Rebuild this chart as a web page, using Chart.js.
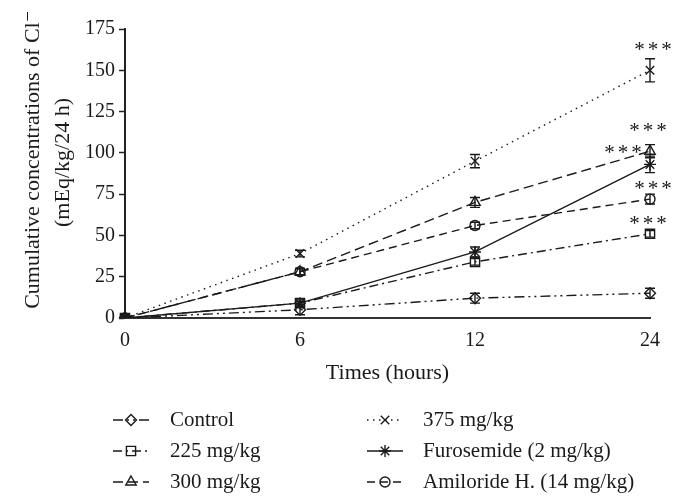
<!DOCTYPE html>
<html>
<head>
<meta charset="utf-8">
<script src="https://cdn.jsdelivr.net/npm/chart.js@4/dist/chart.umd.min.js"></script>
<style>
  html, body { margin: 0; padding: 0; background: #fff; }
</style>
</head>
<body>
<canvas id="chart" width="684" height="498"></canvas>
<script>
// hours
const times = ['0', '6', '12', '24'];

// cumulative Cl- (mEq/kg/24 h)
const control    = [0, 5, 12, 15];
const dose225    = [0, 9, 34, 51];
const dose300    = [0, 28, 70, 101];
const dose375    = [0, 39, 95, 150];
const furosemide = [0, 9, 40, 93];
const amiloride  = [0, 28, 56, 72];

// SEM
const errControl    = [0, 3, 3, 3];
const errDose225    = [0, 1, 2, 2];
const errDose300    = [0, 2, 3, 4];
const errDose375    = [0, 2, 4, 7];
const errFurosemide = [0, 2, 3, 5];
const errAmiloride  = [0, 2, 2, 3];

const yTicks = [0, 25, 50, 75, 100, 125, 150, 175];

const serif = "'Liberation Serif', 'DejaVu Serif', serif";
const ink = '#1a1a1a';
const NB = '\u00A0';

function series(label, data, errors, dash, pointStyle, radius, stars, starOffset) {
    return {
        label: label,
        data: data,
        errors: errors,
        stars: stars,
        starOffset: starOffset,
        borderColor: ink,
        backgroundColor: 'rgba(0,0,0,0)',
        borderWidth: 1.4,
        borderDash: dash,
        tension: 0,
        pointStyle: pointStyle,
        pointRadius: radius,
        pointBorderWidth: 1.4,
        pointBorderColor: ink,
        pointBackgroundColor: 'rgba(0,0,0,0)'
    };
}

const datasets = [
    series('Control', control, errControl, [10, 4, 2, 4, 2, 4], 'rectRot', 5.5, '', null),
    series('225 mg/kg', dose225, errDose225, [9, 4, 2, 4], 'rect', 6.5, '***', [-2, -14]),
    series('300 mg/kg', dose300, errDose300, [10, 5], 'triangle', 6, '***', [-2, -25]),
    series('375 mg/kg', dose375, errDose375, [1.5, 4.5], 'crossRot', 6, '***', [3, -25]),
    series('Furosemide (2 mg/kg)', furosemide, errFurosemide, [], 'star', 6, '***', [-27, -16]),
    series('Amiloride H. (14 mg/kg)', amiloride, errAmiloride, [8, 5], 'circle', 5, '***', [3, -15])
];

const errorBars = {
    id: 'errorBars',
    afterDatasetsDraw(chart) {
        const ctx = chart.ctx;
        const y = chart.scales.y;
        ctx.save();
        ctx.strokeStyle = ink;
        ctx.lineWidth = 1.4;
        chart.data.datasets.forEach((ds, i) => {
            chart.getDatasetMeta(i).data.forEach((pt, j) => {
                const e = ds.errors[j];
                if (!e) return;
                const top = y.getPixelForValue(ds.data[j] + e);
                const bot = y.getPixelForValue(ds.data[j] - e);
                ctx.beginPath();
                ctx.moveTo(pt.x, top); ctx.lineTo(pt.x, bot);
                ctx.moveTo(pt.x - 5, top); ctx.lineTo(pt.x + 5, top);
                ctx.moveTo(pt.x - 5, bot); ctx.lineTo(pt.x + 5, bot);
                ctx.stroke();
            });
        });
        ctx.restore();
    }
};

const significance = {
    id: 'significance',
    afterDatasetsDraw(chart) {
        const ctx = chart.ctx;
        ctx.save();
        ctx.fillStyle = ink;
        ctx.font = '21px ' + serif;
        ctx.letterSpacing = '3px';
        ctx.textAlign = 'center';
        ctx.textBaseline = 'middle';
        chart.data.datasets.forEach((ds, i) => {
            if (!ds.stars) return;
            const pts = chart.getDatasetMeta(i).data;
            const last = pts[pts.length - 1];
            ctx.fillText(ds.stars, last.x + ds.starOffset[0] + 1.5, last.y + ds.starOffset[1] + 5);
        });
        ctx.restore();
    }
};

// two-column legend under the axis title
const legendBox = {
    id: 'legendBox',
    afterDraw(chart) {
        const ctx = chart.ctx;
        const colX = [113, 367];
        const textX = [170, 423];
        const rowY = [420, 451, 482];
        const sample = 36;
        ctx.save();
        chart.data.datasets.forEach((ds, i) => {
            const col = Math.floor(i / 3), row = i % 3;
            const x0 = colX[col], yy = rowY[row];
            ctx.strokeStyle = ink;
            ctx.lineWidth = ds.borderWidth;
            ctx.setLineDash(ds.borderDash);
            ctx.beginPath();
            ctx.moveTo(x0, yy);
            ctx.lineTo(x0 + sample, yy);
            ctx.stroke();
            ctx.setLineDash([]);
            ctx.fillStyle = 'rgba(0,0,0,0)';
            ctx.lineWidth = ds.pointBorderWidth;
            Chart.helpers.drawPoint(ctx, {
                pointStyle: ds.pointStyle,
                radius: ds.pointRadius,
                borderWidth: ds.pointBorderWidth,
                rotation: 0
            }, x0 + sample / 2, yy);
            ctx.fillStyle = ink;
            ctx.font = '21px ' + serif;
            ctx.textAlign = 'left';
            ctx.textBaseline = 'middle';
            ctx.fillText(ds.label, textX[col], yy);
        });
        ctx.restore();
    }
};

new Chart(document.getElementById('chart'), {
    type: 'line',
    data: { labels: times, datasets: datasets },
    plugins: [errorBars, significance, legendBox],
    options: {
        responsive: false,
        animation: false,
        layout: { padding: { top: 29, right: 34, bottom: 112, left: 0 } },
        plugins: { legend: { display: false }, tooltip: { enabled: false } },
        scales: {
            x: {
                type: 'category',
                offset: false,
                afterFit(scale) { scale.height = 68; },
                border: { display: true, color: '#333', width: 2 },
                grid: { drawOnChartArea: false, drawTicks: false },
                ticks: { color: ink, padding: 11, font: { family: serif, size: 20 } },
                title: {
                    display: true, text: 'Times (hours)', color: ink,
                    padding: { top: 0, bottom: 0 },
                    font: { family: serif, size: 22 }
                }
            },
            y: {
                min: 0,
                max: 175,
                afterFit(scale) { scale.width = 125; },
                afterBuildTicks(scale) { scale.ticks = yTicks.map(v => ({ value: v })); },
                border: { display: true, color: '#222', width: 2 },
                grid: { drawOnChartArea: false, drawTicks: true, tickLength: 6, color: '#222', tickWidth: 1.5 },
                ticks: { color: ink, padding: 4, font: { family: serif, size: 20 } },
                title: {
                    display: true,
                    text: [NB.repeat(5) + 'Cumulative concentrations of Cl\u207B',
                           NB.repeat(4) + '(mEq/kg/24 h)'],
                    color: ink,
                    padding: { top: 18, bottom: 0 },
                    font: { family: serif, size: 22, lineHeight: 1.38 }
                }
            }
        }
    }
});
</script>
</body>
</html>
